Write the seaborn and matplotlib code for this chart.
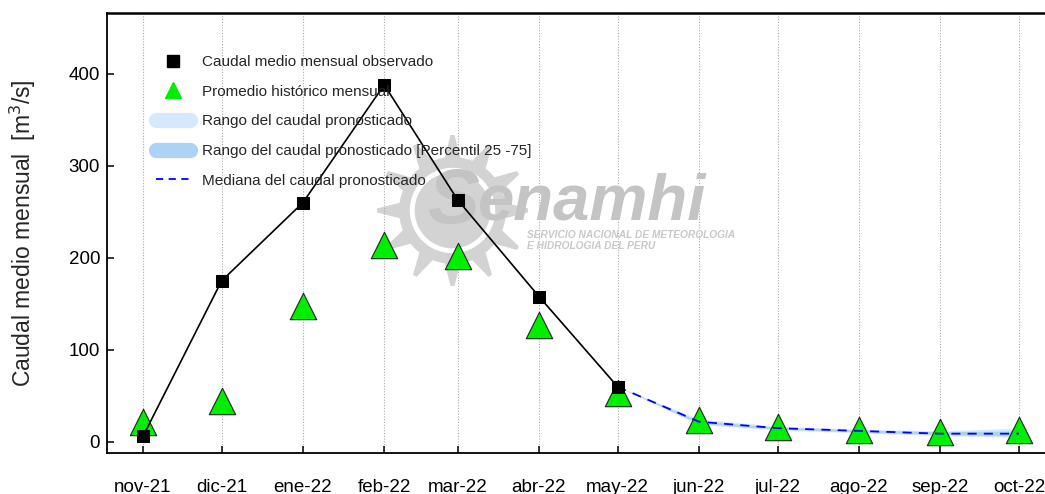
import numpy as np
import pandas as pd
import matplotlib
matplotlib.use("Agg")
import matplotlib.pyplot as plt
from matplotlib.lines import Line2D
import seaborn as sns

# ---------------- data ----------------
months = ["2021-11-01", "2021-12-01", "2022-01-01", "2022-02-01", "2022-03-01", "2022-04-01",
          "2022-05-01", "2022-06-01", "2022-07-01", "2022-08-01", "2022-09-01", "2022-10-01"]
tick_labels = ["nov-21", "dic-21", "ene-22", "feb-22", "mar-22", "abr-22",
               "may-22", "jun-22", "jul-22", "ago-22", "sep-22", "oct-22"]
observed = [6, 175, 260, 388, 263, 158, 60]
historical = [22, 44, 148, 214, 202, 127, 53, 24, 16, 13, 11, 13]
fc_months = ["2022-05-01", "2022-06-01", "2022-07-01", "2022-08-01", "2022-09-01", "2022-10-01"]
fc_median = [60, 22, 15, 12, 9, 9]
fc_min = [60, 19, 13, 10, 7, 5]
fc_max = [60, 25, 17, 14, 12, 15]
fc_p25 = [60, 20, 14, 11, 8, 7]
fc_p75 = [60, 23, 16, 13, 11, 12]

labels = ["Caudal medio mensual observado", "Promedio histórico mensual",
          "Rango del caudal pronosticado", "Rango del caudal pronosticado [Percentil 25 -75]",
          "Mediana del caudal pronosticado"]

# ---------------- frames ----------------
dates = pd.to_datetime(months)
df_obs = pd.DataFrame({"fecha": dates[:len(observed)], "caudal": observed})
df_hist = pd.DataFrame({"fecha": dates, "caudal": historical})
fdates = pd.to_datetime(fc_months)
df_fc = pd.DataFrame({"fecha": fdates, "med": fc_median, "mn": fc_min, "mx": fc_max,
                      "p25": fc_p25, "p75": fc_p75})

sns.set_theme(style="white")
plt.rcParams["font.family"] = ["Liberation Sans", "DejaVu Sans"]

W, H = 1045, 494
fig = plt.figure(figsize=(W / 100, H / 100), dpi=100)
left, right, top, bottom = 107, 1060, 13, 453
ax = fig.add_axes([left / W, 1 - bottom / H, (right - left) / W, (bottom - top) / H])

c_range = "#d6e9fc"
c_iqr = "#acd2f6"

ax.fill_between(df_fc["fecha"], df_fc["mn"], df_fc["mx"], color=c_range, lw=0, zorder=1)
ax.fill_between(df_fc["fecha"], df_fc["p25"], df_fc["p75"], color=c_iqr, lw=0, zorder=1.5)

sns.scatterplot(data=df_hist, x="fecha", y="caudal", marker="^", s=19 ** 2,
                color="#00ee00", edgecolor="#222222", linewidth=0.8, ax=ax, zorder=2)
sns.lineplot(data=df_fc, x="fecha", y="med", color="#0000ff", lw=1.3,
             linestyle=(0, (5, 4)), ax=ax, zorder=3)
sns.lineplot(data=df_obs, x="fecha", y="caudal", color="black", lw=1.2,
             marker="s", markersize=8.5, markeredgecolor="black", ax=ax, zorder=4)

# axes
x0 = pd.Timestamp("2021-11-01") - pd.Timedelta(days=13.7)
span_days = (right - left) / ((1019 - 143) / 334.0)
ax.set_xlim(x0, x0 + pd.Timedelta(days=span_days))
ax.set_ylim(-12, 466)
ax.set_xticks(dates)
ax.set_xticklabels(tick_labels)
ax.set_yticks([0, 100, 200, 300, 400])
ax.tick_params(axis="both", direction="in", length=5, width=1.1, colors="black",
               labelsize=13.5, left=True, bottom=True)
ax.tick_params(axis="x", pad=19)
ax.tick_params(axis="y", pad=5)
ax.set_xlabel("")
ax.set_ylabel("Caudal medio mensual  [m$^3$/s]", fontsize=16.5)
ax.yaxis.set_label_coords(-0.072, 0.5)
ax.grid(axis="x", color="#aaaaaa", linestyle=(0, (1, 1.5)), lw=0.8)
ax.grid(axis="y", visible=False)
for s in ["left", "bottom", "top", "right"]:
    ax.spines[s].set_color("black")
ax.spines["left"].set_linewidth(1.3)
ax.spines["bottom"].set_linewidth(1.3)
ax.spines["top"].set_linewidth(1.8)

# watermark (Senamhi)
wm = "#d3d3d3"
cx, cy = 0.362, 0.552
ax.plot([cx], [cy], transform=ax.transAxes, marker=(12, 1, 0), markersize=108,
        color=wm, mec=wm, mew=3, zorder=0.5)
ax.plot([cx], [cy], transform=ax.transAxes, marker="o", markersize=76,
        color=wm, mec=wm, zorder=0.55)
ax.plot([cx], [cy], transform=ax.transAxes, marker="o", markersize=58,
        mfc="none", mec="white", mew=3.5, zorder=0.6)
ax.text(0.336, 0.57, "S", transform=ax.transAxes, fontsize=56, fontstyle="italic",
        fontweight="bold", color="#c4c4c4", va="center", ha="left", zorder=0.7)
ax.text(0.389, 0.57, "enamhi", transform=ax.transAxes, fontsize=47, fontstyle="italic",
        fontweight="bold", color="#c4c4c4", va="center", ha="left", zorder=0.7)
ax.text(0.441, 0.483, "SERVICIO NACIONAL DE METEOROLOGIA\nE HIDROLOGIA DEL PERU",
        transform=ax.transAxes, fontsize=7.3, fontstyle="italic", fontweight="bold",
        color="#c8c8c8", va="center", ha="left", linespacing=1.1, zorder=0.7)

# legend
handles = [
    Line2D([], [], color="black", marker="s", linestyle="none", markersize=8.5),
    Line2D([], [], color="#00ee00", marker="^", linestyle="none", markersize=11, mec="#00ee00"),
    Line2D([], [], color=c_range, lw=11, solid_capstyle="round"),
    Line2D([], [], color=c_iqr, lw=11, solid_capstyle="round"),
    Line2D([], [], color="#0000ff", lw=1.3, linestyle=(0, (4, 3))),
]
ax.legend(handles, labels, loc="upper left", bbox_to_anchor=(0.045, 0.918), frameon=False,
          fontsize=11, handlelength=2.2, handletextpad=0.8, labelspacing=1.02, borderaxespad=0)

fig.savefig("out.png", dpi=100)
